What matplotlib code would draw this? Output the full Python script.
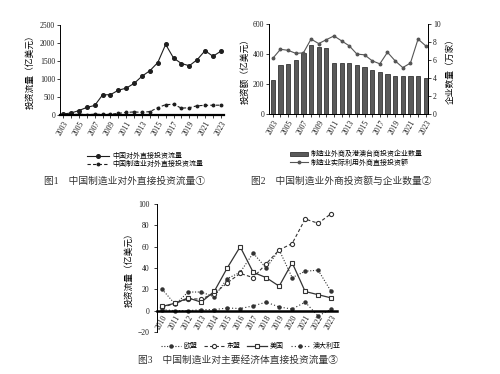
import matplotlib
matplotlib.use("Agg")
import matplotlib.pyplot as plt
from matplotlib.lines import Line2D
from matplotlib.patches import Patch

# ------------------------------------------------------------
# Data
# ------------------------------------------------------------
years1 = list(range(2003, 2024))
total_ofdi = [29, 55, 123, 212, 265, 559, 565, 688, 747, 878, 1078, 1231,
              1457, 1961, 1583, 1430, 1369, 1537, 1788, 1631, 1773]
mfg_ofdi = [6, 8, 23, 9, 21, 18, 22, 47, 70, 87, 72, 96,
            200, 290, 295, 191, 202, 258, 268, 272, 273]

years2 = list(range(2003, 2024))
mfg_fdi = [372, 432, 425, 405, 408, 500, 470, 496, 521, 488, 455, 400,
           395, 355, 335, 412, 355, 310, 340, 500, 455]
firms = [3.8, 5.5, 5.6, 6.0, 6.8, 7.7, 7.5, 7.3, 5.65, 5.65, 5.65, 5.4,
         5.2, 4.9, 4.7, 4.4, 4.25, 4.2, 4.2, 4.2, 4.0]

years3 = list(range(2010, 2024))
eu = [20, 6, 17.5, 17.5, 13, 30, 36, 54, 40, 57, 31, 37, 38, 18]
asean = [3, 7, 11, 11, 16, 26, 35, 31, 44, 57, 63, 86, 82, 91]
us = [4, 7, 12, 8, 18, 40, 60, 36, 31, 23, 45, 18, 15, 12]
aus = [1, 0, 0, 1, 1, 2.5, 2, 4.5, 8, 3.5, 1.5, 8, -5, 1.5]

labels1 = ["中国对外直接投资流量", "中国制造业对外直接投资流量"]
labels2 = ["制造业外商及港澳台商投资企业数量", "制造业实际利用外商直接投资额"]
labels3 = ["欧盟", "东盟", "美国", "澳大利亚"]

plt.rcParams.update({
    "font.family": ["Liberation Serif", "Noto Sans CJK SC", "DejaVu Sans"],
    "font.size": 5.5,
    "axes.linewidth": 0.7,
    "xtick.major.size": 2,
    "ytick.major.size": 2,
    "xtick.major.width": 0.6,
    "ytick.major.width": 0.6,
})

ink = "#1e1e1e"
tick_fs = 5.5
cn_fs = 6.3

fig = plt.figure(figsize=(5, 3.74), dpi=100)

# ------------------------------------------------------------
# Figure 1
# ------------------------------------------------------------
ax1 = fig.add_axes([0.12, 0.6925, 0.328, 0.2406])
ax1.plot(years1, total_ofdi, "-", color=ink, lw=0.8, marker="o", ms=2.6)
ax1.plot(years1, mfg_ofdi, "--", color=ink, lw=0.8, marker="o", ms=1.8,
         dashes=(3, 2))
ax1.set_ylim(0, 2500)
ax1.set_xlim(2002.6, 2023.4)
ax1.set_yticks(range(0, 2501, 500))
ax1.set_xticks(years1)
ax1.set_xticklabels([str(y) if (y - 2003) % 2 == 0 else "" for y in years1],
                    rotation=60, ha="right", rotation_mode="anchor")
ax1.set_ylabel("投资流量（亿美元）", fontsize=cn_fs, labelpad=4)
for s in ("top", "right"):
    ax1.spines[s].set_visible(False)
ax1.spines["bottom"].set_linewidth(1.6)
ax1.tick_params(labelsize=tick_fs, colors=ink, pad=1.5)

h1 = [Line2D([], [], color=ink, lw=0.8, marker="o", ms=2.6),
      Line2D([], [], color=ink, lw=0.8, ls="--", marker="o", ms=1.8,
             dashes=(3, 2))]
fig.legend(h1, labels1, loc="center", bbox_to_anchor=(0.29, 0.573),
           frameon=False, fontsize=5.0, handlelength=3.2, handletextpad=0.4,
           labelspacing=0.15, borderpad=0)

# ------------------------------------------------------------
# Figure 2
# ------------------------------------------------------------
ax2 = fig.add_axes([0.538, 0.695, 0.318, 0.2406])
ax2.bar(years2, firms, width=0.55, color="#5a5a5a", edgecolor=ink, lw=0.5)
ax2.set_ylim(0, 10)
ax2.set_xlim(2002.5, 2023.3)
ax2.set_xticks(years2)
ax2.set_xticklabels([str(y) if (y - 2003) % 2 == 0 else "" for y in years2],
                    rotation=60, ha="right", rotation_mode="anchor")
ax2.spines["top"].set_visible(False)

ax2l = ax2.twinx()
ax2l.plot(years2, mfg_fdi, "-", color="#555555", lw=0.8, marker="o", ms=1.8)
ax2l.set_ylim(0, 600)
ax2l.set_yticks(range(0, 601, 200))
ax2l.yaxis.tick_left()
ax2l.yaxis.set_label_position("left")
ax2l.set_ylabel("投资额（亿美元）", fontsize=cn_fs, labelpad=2)
ax2l.spines["top"].set_visible(False)
ax2l.tick_params(labelsize=tick_fs, colors=ink, pad=1.5)

# bars use the right-hand scale
ax2.yaxis.tick_right()
ax2.yaxis.set_label_position("right")
ax2.set_yticks(range(0, 11, 2))
ax2.set_ylabel("企业数量（万家）", fontsize=cn_fs, rotation=90, labelpad=4)
ax2.tick_params(labelsize=tick_fs, colors=ink, pad=1.5)

h2 = [Patch(facecolor="#5a5a5a", edgecolor=ink, lw=0.5),
      Line2D([], [], color="#555555", lw=0.8, marker="o", ms=1.8)]
fig.legend(h2, labels2, loc="center", bbox_to_anchor=(0.712, 0.578),
           frameon=False, fontsize=5.0, handlelength=2.6, handleheight=0.6,
           handletextpad=0.4, labelspacing=0.15, borderpad=0)

# ------------------------------------------------------------
# Figure 3
# ------------------------------------------------------------
ax3 = fig.add_axes([0.314, 0.1123, 0.36, 0.342])
ax3.spines["bottom"].set_position(("data", 0))
ax3.spines["bottom"].set_linewidth(1.8)
ax3.spines["bottom"].set_zorder(3)
ax3.plot(years3, eu, color="#333333", lw=0.8, ls=(0, (1, 1.5)),
         marker="o", ms=2.2)
ax3.plot(years3, asean, color="#333333", lw=0.8, ls=(0, (3, 2)),
         marker="o", ms=3, mfc="white", mew=0.8)
ax3.plot(years3, us, color="#333333", lw=0.9, ls="-",
         marker="s", ms=3, mfc="white", mew=0.8)
ax3.plot(years3, aus, color="#333333", lw=0.8, ls=(0, (1, 2)),
         marker="o", ms=2.2)
ax3.set_ylim(-20, 100)
ax3.set_yticks(range(-20, 101, 20))
ax3.set_xlim(2009.6, 2023.45)
ax3.set_xticks(years3)
ax3.set_xticklabels([str(y) for y in years3], rotation=60, ha="right",
                    rotation_mode="anchor")
ax3.tick_params(axis="x", length=0, pad=2.5)
ax3.set_ylabel("投资流量（亿美元）", fontsize=cn_fs, labelpad=3)
for s in ("top", "right"):
    ax3.spines[s].set_visible(False)
ax3.tick_params(labelsize=tick_fs, colors=ink)

h3 = [Line2D([], [], color="#333333", lw=0.8, ls=(0, (1, 1.5)), marker="o", ms=2.2),
      Line2D([], [], color="#333333", lw=0.8, ls=(0, (3, 2)), marker="o", ms=3,
             mfc="white", mew=0.8),
      Line2D([], [], color="#333333", lw=0.9, marker="s", ms=3, mfc="white", mew=0.8),
      Line2D([], [], color="#333333", lw=0.8, ls=(0, (1, 2)), marker="o", ms=2.2)]
fig.legend(h3, labels3, loc="center", bbox_to_anchor=(0.502, 0.075), ncol=4,
           frameon=False, fontsize=5.0, handlelength=2.8, handletextpad=0.4,
           columnspacing=1.0, borderpad=0)

# ------------------------------------------------------------
# Captions
# ------------------------------------------------------------
fig.text(0.25, 0.516, "图1    中国制造业对外直接投资流量①", ha="center", va="center",
         fontsize=7, color="#333333")
fig.text(0.682, 0.516, "图2    中国制造业外商投资额与企业数量②", ha="center", va="center",
         fontsize=7, color="#333333")
fig.text(0.476, 0.037, "图3    中国制造业对主要经济体直接投资流量③", ha="center",
         va="center", fontsize=7, color="#333333")

fig.savefig("out.png", dpi=100)
